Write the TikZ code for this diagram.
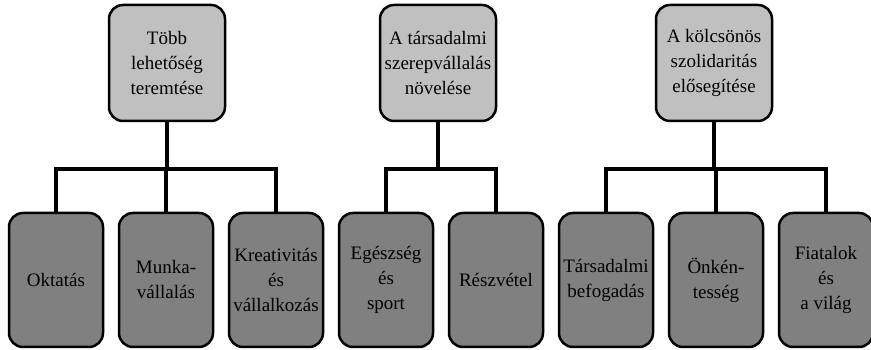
\documentclass[tikz,border=0pt]{standalone}
\usepackage{fontspec}
\setmainfont{Liberation Serif}
\usepackage{xcolor}
\usepackage{tikz}
\usetikzlibrary{positioning}

\definecolor{goalgray}{RGB}{192,192,192}
\definecolor{areagray}{RGB}{128,128,128}

\tikzset{
  goalbox/.style={rectangle, draw, line width=2.5pt, rounded corners=14pt, fill=goalgray,
    minimum width=116pt, minimum height=116pt, align=center, inner sep=1pt,
    font=\fontsize{19}{25}\selectfont},
  areabox/.style={rectangle, draw, line width=2.5pt, rounded corners=14pt, fill=areagray,
    minimum width=94pt, minimum height=134pt, align=center, inner sep=1pt, on grid,
    font=\fontsize{19}{25}\selectfont},
  branch/.style={draw, line width=4pt}
}

\begin{document}
\begin{tikzpicture}[node distance = 110pt]
        \useasboundingbox (0,0) rectangle (871pt,350pt);
        % Nodes
        \node [goalbox] (lehetoseg) at (167pt,287pt) {Több\\lehetőség\\teremtése};
        \node [goalbox] (szerep) at (438pt,287pt) {A társadalmi\\szerepvállalás\\növelése};
        \node [goalbox] (szolidaritas) at (714pt,287pt) {A kölcsönös\\szolidaritás\\elősegítése};

        \node [areabox] (oktatas) at (56pt,70pt) {Oktatás};
        \node [areabox, right=of oktatas] (munka) {Munka-\\vállalás};
        \node [areabox, right=of munka] (kreativ) {Kreativitás\\és\\vállalkozás};
        \node [areabox, right=of kreativ] (egeszseg) {Egészség\\és\\sport};
        \node [areabox, right=of egeszseg] (reszvetel) {Részvétel};
        \node [areabox, right=of reszvetel] (befogadas) {Társadalmi\\befogadás};
        \node [areabox, right=of befogadas] (onkentes) {Önkén-\\tesség};
        \node [areabox, right=of onkentes] (vilag) {Fiatalok\\és\\a világ};

        \coordinate (fork1) at ([yshift=-47pt]lehetoseg.south);
        \coordinate (fork2) at ([yshift=-47pt]szerep.south);
        \coordinate (fork3) at ([yshift=-47pt]szolidaritas.south);

        % Connectors
        \path [branch] (lehetoseg.south) -- (fork1);
        \path [branch] (oktatas.north) |- (fork1) -| (kreativ.north);
        \path [branch] (munka.north) -- (munka.north |- fork1);
        \path [branch] (szerep.south) -- (fork2);
        \path [branch] (egeszseg.north) |- (fork2) -| (reszvetel.north);
        \path [branch] (szolidaritas.south) -- (fork3);
        \path [branch] (befogadas.north) |- (fork3) -| (vilag.north);
        \path [branch] (onkentes.north) -- (onkentes.north |- fork3);
    \end{tikzpicture}
\end{document}
